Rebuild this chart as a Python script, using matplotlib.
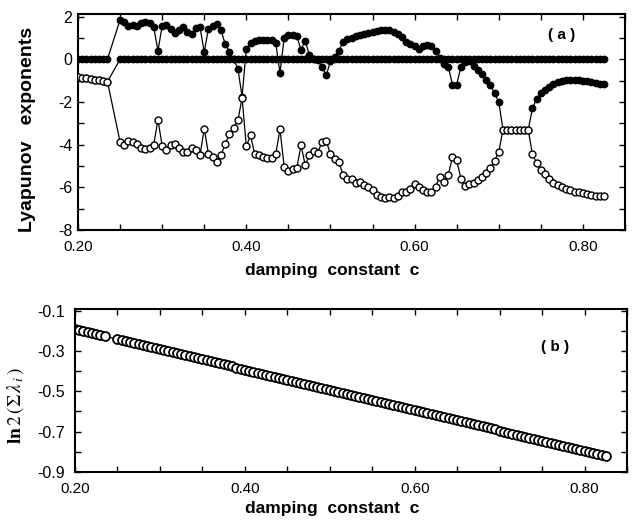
import matplotlib
matplotlib.use('Agg')
import numpy as np
import matplotlib.pyplot as plt
from matplotlib.ticker import MultipleLocator

plt.rcParams['font.family'] = ['Liberation Sans', 'DejaVu Sans']
plt.rcParams['mathtext.fontset'] = 'stix'

# ---- data ----
c_low = [0.200, 0.205, 0.210, 0.215, 0.220, 0.225, 0.230, 0.235]
c_high = list(np.round(np.arange(0.250, 0.8251, 0.005), 3))
c_vals = c_low + c_high

lam_upper = [0, 0, 0, 0, 0, 0, 0, 0,
    1.85, 1.75, 1.55, 1.62, 1.58, 1.70, 1.75, 1.72, 1.50, 0.40,
    1.55, 1.60, 1.40, 1.25, 1.35, 1.50, 1.30, 1.20, 1.45, 1.50,
    0.33, 1.44, 1.58, 1.65, 1.35, 0.70, 0.35, 0.00, -0.45, -1.75,
    0.50, 0.75, 0.85, 0.88, 0.88, 0.90, 0.88, 0.75, -0.65, 1.00,
    1.15, 1.12, 1.08, 0.45, 0.85, 0.20, 0.00, -0.05, -0.35, -0.75,
    -0.10, 0.10, 0.40, 0.80, 0.95, 1.00, 1.07, 1.12, 1.18, 1.22,
    1.28, 1.33, 1.38, 1.38, 1.35, 1.30, 1.20, 1.03, 0.80, 0.72,
    0.60, 0.50, 0.60, 0.68, 0.62, 0.40, 0.05, -0.20, -0.35, -1.19,
    -1.19, -0.35, -0.12, -0.08, -0.30, -0.50, -0.70, -0.95, -1.20, -1.60,
    -2.00, -3.30, -3.30, -3.30, -3.30, -3.30, -3.30, -3.30, -2.30, -1.85,
    -1.60, -1.42, -1.28, -1.15, -1.07, -1.02, -0.98, -0.97, -0.97, -0.98,
    -1.00, -1.04, -1.07, -1.10, -1.15, -1.18]

lam_low_start = [-0.85, -0.88, -0.90, -0.92, -0.95, -0.97, -1.00, -1.05]
lam_zero = lam_low_start + [0.0] * 116

lam_lower = lam_low_start + [
    -3.87, -4.03, -3.85, -3.87, -3.95, -4.15, -4.20, -4.18, -4.00, -2.83,
    -4.05, -4.25, -4.00, -3.95, -4.15, -4.33, -4.35, -4.15, -4.25, -4.50,
    -3.25, -4.42, -4.57, -4.80, -4.50, -3.95, -3.50, -3.20, -2.86, -1.81,
    -4.08, -3.56, -4.45, -4.50, -4.57, -4.65, -4.65, -4.45, -3.28, -5.04,
    -5.24, -5.15, -5.10, -4.03, -4.96, -4.50, -4.30, -4.37, -3.87, -3.83,
    -4.45, -4.68, -4.80, -5.43, -5.60, -5.62, -5.82, -5.75, -5.90, -6.00,
    -6.13, -6.36, -6.45, -6.48, -6.45, -6.48, -6.40, -6.24, -6.20, -6.08,
    -5.85, -6.00, -6.13, -6.20, -6.20, -5.97, -5.50, -5.75, -5.40, -4.60,
    -4.73, -5.60, -5.93, -5.85, -5.78, -5.67, -5.50, -5.35, -5.09, -4.77,
    -4.34, -3.30, -3.30, -3.30, -3.30, -3.30, -3.30, -3.30, -4.46, -4.86,
    -5.20, -5.38, -5.62, -5.78, -5.90, -6.00, -6.10, -6.13, -6.20, -6.20,
    -6.28, -6.33, -6.38, -6.40, -6.40, -6.40]

sum_lam = [-0.192, -0.197, -0.202, -0.207, -0.212, -0.217, -0.222, -0.227,
    -0.242, -0.247, -0.252, -0.257, -0.262, -0.267, -0.272, -0.277, -0.282, -0.287,
    -0.292, -0.297, -0.302, -0.307, -0.312, -0.317, -0.322, -0.327, -0.332, -0.337,
    -0.342, -0.347, -0.352, -0.357, -0.362, -0.367, -0.372, -0.377, -0.382, -0.387,
    -0.392, -0.397, -0.402, -0.407, -0.412, -0.417, -0.422, -0.427, -0.432, -0.437,
    -0.442, -0.447, -0.452, -0.457, -0.462, -0.467, -0.472, -0.477, -0.482, -0.487,
    -0.493, -0.498, -0.503, -0.508, -0.513, -0.518, -0.523, -0.528, -0.533, -0.538,
    -0.543, -0.548, -0.553, -0.558, -0.563, -0.568, -0.573, -0.578, -0.583, -0.588,
    -0.594, -0.599, -0.604, -0.609, -0.614, -0.619, -0.624, -0.629, -0.634, -0.639,
    -0.644, -0.649, -0.654, -0.659, -0.664, -0.669, -0.674, -0.679, -0.684, -0.689,
    -0.695, -0.700, -0.705, -0.710, -0.715, -0.720, -0.725, -0.730, -0.735, -0.740,
    -0.745, -0.750, -0.755, -0.760, -0.765, -0.770, -0.775, -0.780, -0.785, -0.790,
    -0.796, -0.801, -0.806, -0.811, -0.816, -0.821]

xticks = [0.20, 0.40, 0.60, 0.80]
xtick_labels = ['0.20', '0.40', '0.60', '0.80']
yticks_a = [-8, -6, -4, -2, 0, 2]
yticks_b = [-0.9, -0.7, -0.5, -0.3, -0.1]

# ---- figure ----
W, H = 633, 523
fig = plt.figure(figsize=(W / 100, H / 100), dpi=100)

def frac(l, t, r, b):
    return [l / W, 1 - b / H, (r - l) / W, (b - t) / H]

ax1 = fig.add_axes(frac(78, 14, 625, 230))
ax2 = fig.add_axes(frac(75, 309, 627, 472))

def style(ax):
    for s in ax.spines.values():
        s.set_linewidth(1.5)
    ax.tick_params(which='both', direction='in', top=True, right=True, width=1.0)
    ax.tick_params(which='major', length=4)
    ax.tick_params(which='minor', length=4)
    ax.xaxis.set_minor_locator(MultipleLocator(0.05))
    ax.set_xticks(xticks)
    ax.set_xticklabels(xtick_labels, fontsize=11)
    ax.set_xlim(0.2, 0.85)

# panel (a)
ax1.plot(c_vals, lam_zero, '-', color='black', lw=0.9, marker='o', ms=4.6,
         mfc='black', mec='black', zorder=2)
ax1.plot(c_vals, lam_upper, '-', color='black', lw=0.9, marker='o', ms=4.6,
         mfc='black', mec='black', zorder=2)
ax1.plot(c_vals, lam_lower, '-', color='black', lw=0.9, marker='o', ms=5.0,
         mfc='white', mec='black', mew=1.0, zorder=3)
style(ax1)
ax1.set_ylim(-8, 2.12)
ax1.set_yticks(yticks_a)
ax1.set_yticklabels([str(v) for v in yticks_a], fontsize=11.5)
ax1.yaxis.set_minor_locator(MultipleLocator(1))
ax1.tick_params(axis='x', pad=7)
ax1.tick_params(axis='y', pad=4)
ax1.text(0.885, 0.905, '( a )', transform=ax1.transAxes, fontsize=11,
         fontweight='bold', ha='center', va='center')

# panel (b)
ax2.plot(c_vals, sum_lam, '-', color='black', lw=0.9, marker='o', ms=6.4,
         mfc='white', mec='black', mew=1.3)
style(ax2)
ax2.set_ylim(-0.9, -0.092)
ax2.set_yticks(yticks_b)
ax2.set_yticklabels(['-0.9', '-0.7', '-0.5', '-0.3', '-0.1'], fontsize=11.5)
ax2.yaxis.set_minor_locator(MultipleLocator(0.1))
ax2.tick_params(axis='x', pad=7)
ax2.tick_params(axis='y', pad=7)
ax2.text(0.87, 0.767, '( b )', transform=ax2.transAxes, fontsize=11,
         fontweight='bold', ha='center', va='center')

# axis labels
fig.text(332 / W, 1 - 270 / H, 'damping  constant  c', fontsize=12.5,
         fontweight='bold', ha='center', va='center')
fig.text(332 / W, 1 - 509 / H, 'damping  constant  c', fontsize=12.5,
         fontweight='bold', ha='center', va='center')
fig.text(28 / W, 1 - 129 / H, 'Lyapunov   exponents', fontsize=14,
         fontweight='bold', rotation=90, ha='center', va='center')
fig.text(16 / W, 1 - 406 / H, r'$\mathbf{ln}\,2\,(\Sigma\,\lambda_{\,i}\,)$',
         fontsize=14, rotation=90, ha='center', va='center')

fig.savefig('out.png', dpi=100)
